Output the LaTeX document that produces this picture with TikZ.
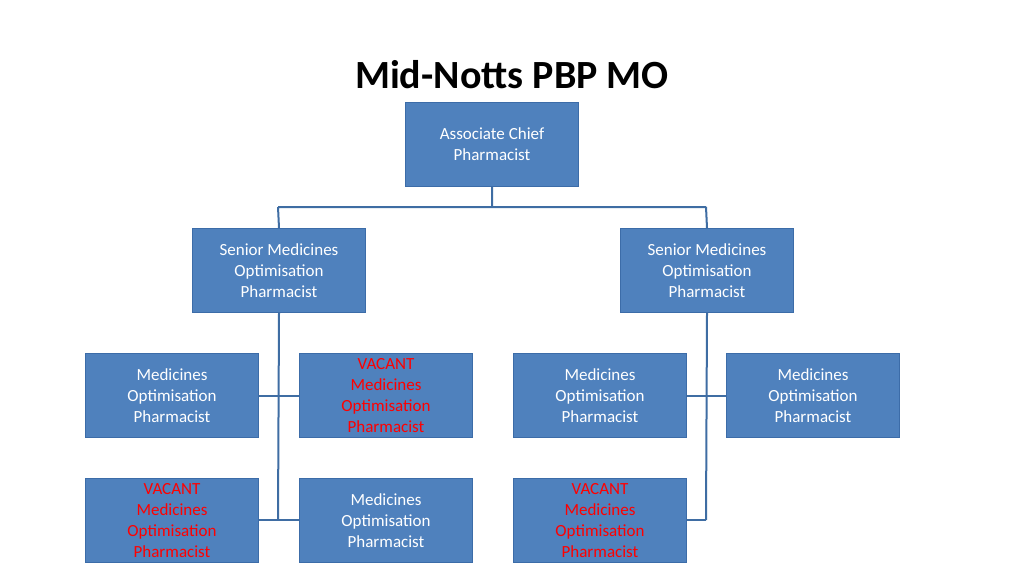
\documentclass[tikz,border=0pt]{standalone}
\usepackage{fontspec}
\setmainfont{Carlito}
\begin{document}
\begin{tikzpicture}[x=1pt,y=-1pt,
  box/.style={draw=boxline,fill=boxfill,line width=1pt,minimum width=173pt,minimum height=84pt,anchor=north west,align=center,text=white,font=\fontsize{17}{21}\selectfont,inner sep=2pt},
  vac/.style={box,text=vacred},
  con/.style={draw=conblue,line width=2pt}]
\definecolor{boxfill}{HTML}{4F81BD}
\definecolor{boxline}{HTML}{3C6CA8}
\definecolor{conblue}{HTML}{3F6DA3}
\definecolor{vacred}{HTML}{FF0000}
\useasboundingbox (0,0) rectangle (1024,575);
\node[font=\bfseries\fontsize{40}{44}\selectfont] (title) at (512,75) {Mid-Notts PBP MO};
% connectors first
\coordinate (j0) at (492,207);
\coordinate (jl) at (278,207);
\coordinate (jr) at (706,207);
\coordinate (ll) at (278,520);
\coordinate (rl) at (706,520);
\node[box] (top) at (405,102) {Associate Chief\\Pharmacist};
\node[box] (sl) at (192,228) {Senior Medicines\\Optimisation\\Pharmacist};
\node[box] (sr) at (620,228) {Senior Medicines\\Optimisation\\Pharmacist};
\coordinate (a1) at (278,395); \coordinate (a2) at (706,395);
\draw[con] (top.south) -- (j0) (jl) -- (jr) (jl) -- (sl.north) (jr) -- (sr.north);
\draw[con] (sl.south) -- (ll) (sr.south) -- (rl);
\node[box] (m1) at (85,353) {Medicines\\Optimisation\\Pharmacist};
\node[vac] (m2) at (299,353) {VACANT\\Medicines\\Optimisation\\Pharmacist};
\node[box] (m3) at (513,353) {Medicines\\Optimisation\\Pharmacist};
\node[box] (m4) at (726,353) {Medicines\\Optimisation\\Pharmacist};
\node[vac] (m5) at (85,478) {VACANT\\Medicines\\Optimisation\\Pharmacist};
\node[box] (m6) at (299,478) {Medicines\\Optimisation\\Pharmacist};
\node[vac] (m7) at (513,478) {VACANT\\Medicines\\Optimisation\\Pharmacist};
\draw[con] (m1.east) -- (m2.west) (m3.east) -- (m4.west);
\draw[con] (m5.east|-ll) -- (m6.west|-ll) (m7.east|-rl) -- (rl);
\end{tikzpicture}
\end{document}
